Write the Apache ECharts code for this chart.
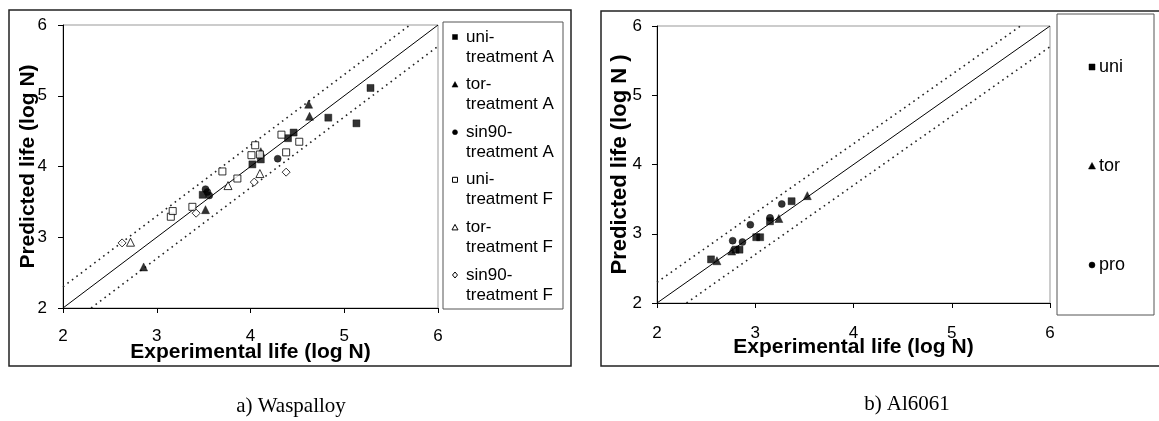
<!DOCTYPE html>
<html><head><meta charset="utf-8">
<script src="https://cdn.jsdelivr.net/npm/echarts@6/dist/echarts.min.js"></script>
<style>html,body{margin:0;padding:0;background:#fff}#c{width:1159px;height:421px}</style>
</head><body><div id="c"></div>
<script>
// ---------- data ----------
const axisTicks = [2, 3, 4, 5, 6];
const xTitle = 'Experimental life (log N)';
const yTitleA = 'Predicted life (log N)';
const yTitleB = 'Predicted life (log N )';
const captionA = 'a) Waspalloy';
const captionB = 'b) Al6061';

// Panel a) Waspalloy
const namesA = ['uni-\ntreatment A', 'tor-\ntreatment A', 'sin90-\ntreatment A', 'uni-\ntreatment F', 'tor-\ntreatment F', 'sin90-\ntreatment F'];
const uniA = [[5.28,5.11],[4.83,4.69],[5.13,4.61],[4.46,4.48],[4.40,4.40],[4.02,4.03],[4.11,4.10],[3.49,3.60]];
const torA = [[4.62,4.88],[4.63,4.71],[3.52,3.39],[2.86,2.58],[4.11,4.21]];
const sinA = [[3.52,3.68],[3.56,3.59],[3.54,3.64],[4.29,4.11]];
const uniF = [[3.15,3.29],[3.17,3.37],[3.38,3.43],[3.70,3.93],[3.86,3.83],[4.05,4.30],[4.01,4.16],[4.10,4.17],[4.33,4.45],[4.38,4.20],[4.52,4.35]];
const torF = [[2.72,2.93],[3.76,3.73],[4.10,3.90]];
const sinF = [[2.63,2.92],[3.42,3.34],[4.04,3.78],[4.38,3.92]];

// Panel b) Al6061
const namesB = ['uni', 'tor', 'pro'];
const uniB = [[2.55,2.63],[2.80,2.77],[2.84,2.77],[3.01,2.95],[3.05,2.95],[3.15,3.18],[3.37,3.47]];
const torB = [[2.61,2.61],[2.76,2.75],[3.24,3.22],[3.53,3.55]];
const proB = [[2.77,2.90],[2.87,2.88],[2.95,3.13],[3.15,3.23],[3.27,3.43]];

// reference lines (y = x, and factor-of-2 band)
const lineEq = [[2,2],[6,6]];
const lineUp = [[2,2.3],[5.7,6]];
const lineLo = [[2.3,2],[6,5.7]];

// ---------- chart ----------
const FONT = 'Liberation Sans, Arial, sans-serif';
const chart = echarts.init(document.getElementById('c'), null, {renderer:'canvas'});

function xAx(gi, labelMargin, nameGap, nameSize){
  return {gridIndex:gi, type:'value', min:2, max:6, interval:1,
    axisLine:{onZero:false, lineStyle:{color:'#000', width:1}},
    axisTick:{show:true, inside:false, length:5, lineStyle:{color:'#000'}},
    axisLabel:{color:'#000', fontSize:17, fontFamily:FONT, margin:labelMargin,
      formatter:v=>axisTicks.includes(v)?String(v):''},
    splitLine:{show:false},
    name:xTitle, nameLocation:'middle', nameGap:nameGap, nameMoveOverlap:false,
    nameTextStyle:{color:'#000', fontWeight:'bold', fontSize:nameSize, fontFamily:FONT}};
}
function yAx(gi, labelMargin, nameGap, nameSize, title){
  return {gridIndex:gi, type:'value', min:2, max:6, interval:1,
    axisLine:{onZero:false, lineStyle:{color:'#000', width:1}},
    axisTick:{show:true, inside:false, length:5, lineStyle:{color:'#000'}},
    axisLabel:{color:'#000', fontSize:17, fontFamily:FONT, margin:labelMargin,
      formatter:v=>axisTicks.includes(v)?String(v):''},
    splitLine:{show:false},
    name:title, nameLocation:'middle', nameGap:nameGap, nameMoveOverlap:false,
    nameTextStyle:{color:'#000', fontWeight:'bold', fontSize:nameSize, fontFamily:FONT}};
}
function refLines(gi){
  const base = {type:'line', xAxisIndex:gi, yAxisIndex:gi, symbol:'none', silent:true, z:1, animation:false};
  return [
    Object.assign({}, base, {data:lineEq, lineStyle:{color:'#000', width:1, type:'solid'}}),
    Object.assign({}, base, {data:lineUp, lineStyle:{color:'#222', width:1.6, type:[1.6,4]}}),
    Object.assign({}, base, {data:lineLo, lineStyle:{color:'#222', width:1.6, type:[1.6,4]}})
  ];
}
function sc(gi, name, data, symbol, size, filled){
  return {type:'scatter', name:name, xAxisIndex:gi, yAxisIndex:gi, data:data,
    symbol:symbol, symbolSize:size, z:3, animation:false,
    itemStyle:filled?{color:'#000', borderColor:'#000', borderWidth:0.5}
                    :{color:'#fff', borderColor:'#000', borderWidth:1}};
}

// legend graphics
function marker(symbol, filled, cx, cy, s){
  const style = filled?{fill:'#000', stroke:'#000', lineWidth:0.5}:{fill:'#fff', stroke:'#000', lineWidth:1};
  const h = s/2;
  if(symbol==='rect') return {type:'rect', shape:{x:cx-h, y:cy-h, width:s, height:s}, style};
  if(symbol==='circle') return {type:'circle', shape:{cx:cx, cy:cy, r:h}, style};
  if(symbol==='triangle') return {type:'polygon', shape:{points:[[cx,cy-h-0.5],[cx+h+0.5,cy+h],[cx-h-0.5,cy+h]]}, style};
  return {type:'polygon', shape:{points:[[cx,cy-h-0.5],[cx+h,cy],[cx,cy+h+0.5],[cx-h,cy]]}, style};
}
const symA = [['rect',true],['triangle',true],['circle',true],['rect',false],['triangle',false],['diamond',false]];
const symB = [['rect',true],['triangle',true],['circle',true]];

const graphics = [
  {type:'rect', shape:{x:9, y:10, width:562, height:356}, style:{fill:'none', stroke:'#222', lineWidth:1.5}, z:0},
  {type:'rect', shape:{x:601, y:11, width:620, height:355}, style:{fill:'none', stroke:'#222', lineWidth:1.5}, z:0},
  {type:'rect', shape:{x:443, y:22, width:120, height:287}, style:{fill:'#fff', stroke:'#555', lineWidth:1}, z:0},
  {type:'rect', shape:{x:1057, y:14, width:97, height:301}, style:{fill:'#fff', stroke:'#555', lineWidth:1}, z:0},
  {type:'text', x:291, y:406, style:{text:captionA, font:'21px "Liberation Serif", "Times New Roman", serif', fill:'#000', textAlign:'center', textVerticalAlign:'middle'}},
  {type:'text', x:907, y:404, style:{text:captionB, font:'21px "Liberation Serif", "Times New Roman", serif', fill:'#000', textAlign:'center', textVerticalAlign:'middle'}}
];
namesA.forEach((n,i)=>{
  const y = 37 + i*47.6;
  graphics.push(Object.assign(marker(symA[i][0], symA[i][1], 455, y, 5), {z:5}));
  graphics.push({type:'text', x:466, y:y-10, z:5, style:{text:n, font:'17px '+FONT, fill:'#000', lineHeight:20, textVerticalAlign:'top'}});
});
namesB.forEach((n,i)=>{
  const y = 67 + i*99;
  graphics.push(Object.assign(marker(symB[i][0], symB[i][1], 1092, y, 6), {z:5}));
  graphics.push({type:'text', x:1099, y:y, z:5, style:{text:n, font:'18px '+FONT, fill:'#000', textVerticalAlign:'middle'}});
});

const option = {
  backgroundColor:'#fff',
  animation:false,
  grid:[
    {left:63, top:25, width:375, height:283, show:true, borderColor:'#999', borderWidth:1, backgroundColor:'#fff'},
    {left:657, top:26, width:393, height:277, show:true, borderColor:'#999', borderWidth:1, backgroundColor:'#fff'}
  ],
  xAxis:[xAx(0, 20, 34, 21), xAx(1, 22, 34, 21)],
  yAxis:[yAx(0, 16, 24, 21, yTitleA), yAx(1, 15, 26, 22, yTitleB)],
  series:[].concat(
    refLines(0), refLines(1),
    [sc(0, namesA[0], uniA, 'rect', 7, true),
     sc(0, namesA[1], torA, 'triangle', 8, true),
     sc(0, namesA[2], sinA, 'circle', 7, true),
     sc(0, namesA[3], uniF, 'rect', 7, false),
     sc(0, namesA[4], torF, 'triangle', 8, false),
     sc(0, namesA[5], sinF, 'diamond', 8, false),
     sc(1, namesB[0], uniB, 'rect', 7, true),
     sc(1, namesB[1], torB, 'triangle', 8, true),
     sc(1, namesB[2], proB, 'circle', 7, true)]
  ),
  graphic:graphics
};
chart.setOption(option);
</script></body></html>
